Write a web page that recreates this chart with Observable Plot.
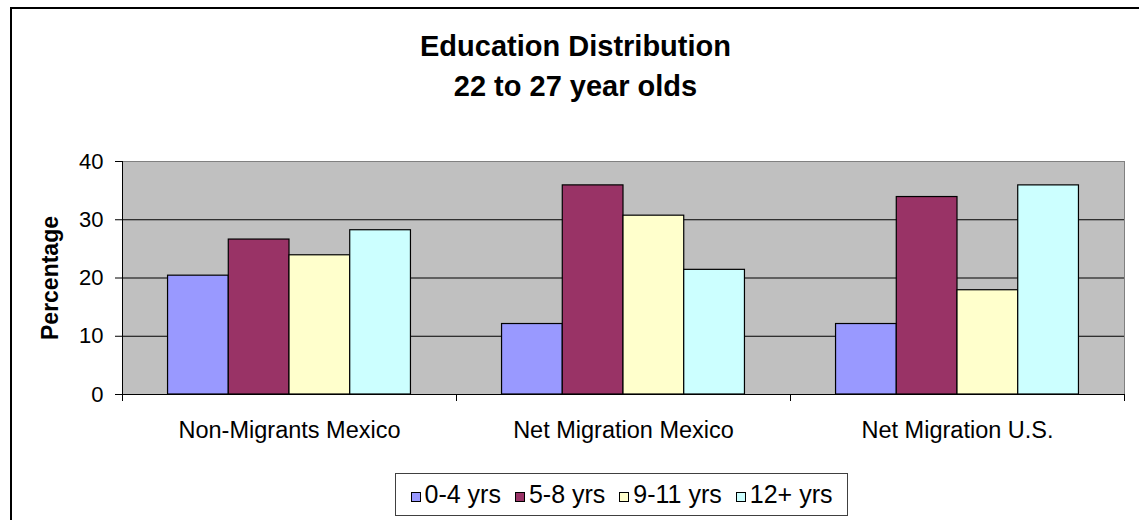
<!DOCTYPE html>
<html>
<head>
<meta charset="utf-8">
<script src="https://cdn.jsdelivr.net/npm/d3@7"></script>
<script src="https://cdn.jsdelivr.net/npm/@observablehq/plot@0.6"></script>
<style>
  html, body { margin: 0; padding: 0; background: #fff; }
  body { font-family: "Liberation Sans", Arial, sans-serif; color: #000; }
  #chart { position: relative; width: 1139px; height: 520px; overflow: hidden; }
  #border { position: absolute; left: 10px; top: 7px; width: 1140px; height: 600px;
            border-left: 2px solid #000; border-top: 2px solid #000; }
  .title { position: absolute; left: 10px; width: 1131px; text-align: center;
           font-weight: bold; font-size: 29px; line-height: 29px; white-space: nowrap; }
  #plot { position: absolute; left: 0; top: 140px; }
  #legend { position: absolute; left: 395px; top: 473px; width: 451px; height: 41px;
            border: 1px solid #404040; display: flex; align-items: center;
            justify-content: center; font-size: 25px; box-sizing: content-box; }
  .item { display: flex; align-items: center; margin: 0 7px; white-space: nowrap; }
  .swatch { width: 8px; height: 8px; border: 1px solid #000; margin-right: 4px; margin-top: 5px; }
</style>
</head>
<body>
<div id="chart">
  <div id="border"></div>
  <div class="title" style="top: 32px;">Education Distribution</div>
  <div class="title" style="top: 72px;">22 to 27 year olds</div>
  <div id="plot"></div>
  <div id="legend"></div>
</div>
<script>
// Groups along the x axis
const categories = ["Non-Migrants Mexico", "Net Migration Mexico", "Net Migration U.S."];
// Education levels (one bar per level in each group)
const series = ["0-4 yrs", "5-8 yrs", "9-11 yrs", "12+ yrs"];
// Percentage of 22 to 27 year olds, per group
const yrs0to4 = [20.4, 12.1, 12.1];
const yrs5to8 = [26.6, 35.9, 33.9];
const yrs9to11 = [23.9, 30.7, 17.9];
const yrs12plus = [28.2, 21.4, 35.9];
// Y axis ticks
const yTicks = [0, 10, 20, 30, 40];
const colors = ["#9999FF", "#993366", "#FFFFCC", "#CCFFFF"];

const seriesValues = [yrs0to4, yrs5to8, yrs9to11, yrs12plus];

// Clustered bar layout: a gap of 150% of one bar width separates clusters
const gapWidth = 1.5;
const barWidth = 1 / (series.length + gapWidth);

const rows = [];
categories.forEach((category, ci) => {
  series.forEach((s, si) => {
    const x1 = ci + (gapWidth * barWidth) / 2 + si * barWidth;
    rows.push({category, series: s, value: seriesValues[si][ci], x1, x2: x1 + barWidth});
  });
});

const plot = Plot.plot({
  width: 1139,
  height: 320,
  marginLeft: 122,
  marginRight: 15,
  marginTop: 21,
  marginBottom: 66,
  style: {fontFamily: "'Liberation Sans', Arial, sans-serif", color: "#000", background: "transparent"},
  x: {type: "linear", domain: [0, categories.length], label: null},
  y: {domain: [0, 40], label: null},
  color: {domain: series, range: colors},
  marks: [
    Plot.frame({fill: "#C0C0C0", stroke: null}),
    Plot.ruleY([10, 20, 30], {stroke: "#000", strokeWidth: 1}),
    Plot.rectY(rows, {x1: "x1", x2: "x2", y: "value", fill: "series", stroke: "#000", strokeWidth: 1.2}),
    Plot.frame({stroke: "#808080", strokeWidth: 1}),
    Plot.ruleX([0], {stroke: "#000"}),
    Plot.ruleY([0], {stroke: "#000"}),
    Plot.axisY({ticks: yTicks, tickSize: 7, tickPadding: 12, fontSize: 22, label: null}),
    // Tick marks at cluster boundaries
    Plot.axisX({ticks: d3.range(categories.length + 1), tickSize: 7, tickFormat: () => "", label: null}),
    // Category names centred under each cluster
    Plot.axisX({
      ticks: categories.map((_, i) => i + 0.5),
      tickSize: 0,
      tickPadding: 27,
      fontSize: 23.5,
      tickFormat: (d) => categories[Math.floor(d)],
      label: null
    }),
    Plot.text(["Percentage"], {
      frameAnchor: "left", textAnchor: "middle", rotate: -90, dx: -72,
      fontWeight: "bold", fontSize: 23, fill: "#000"
    })
  ]
});
document.getElementById("plot").appendChild(plot);

// Legend
const legend = d3.select("#legend");
series.forEach((s, i) => {
  const item = legend.append("div").attr("class", "item");
  item.append("div").attr("class", "swatch").style("background", colors[i]);
  item.append("span").text(s);
});
</script>
</body>
</html>
